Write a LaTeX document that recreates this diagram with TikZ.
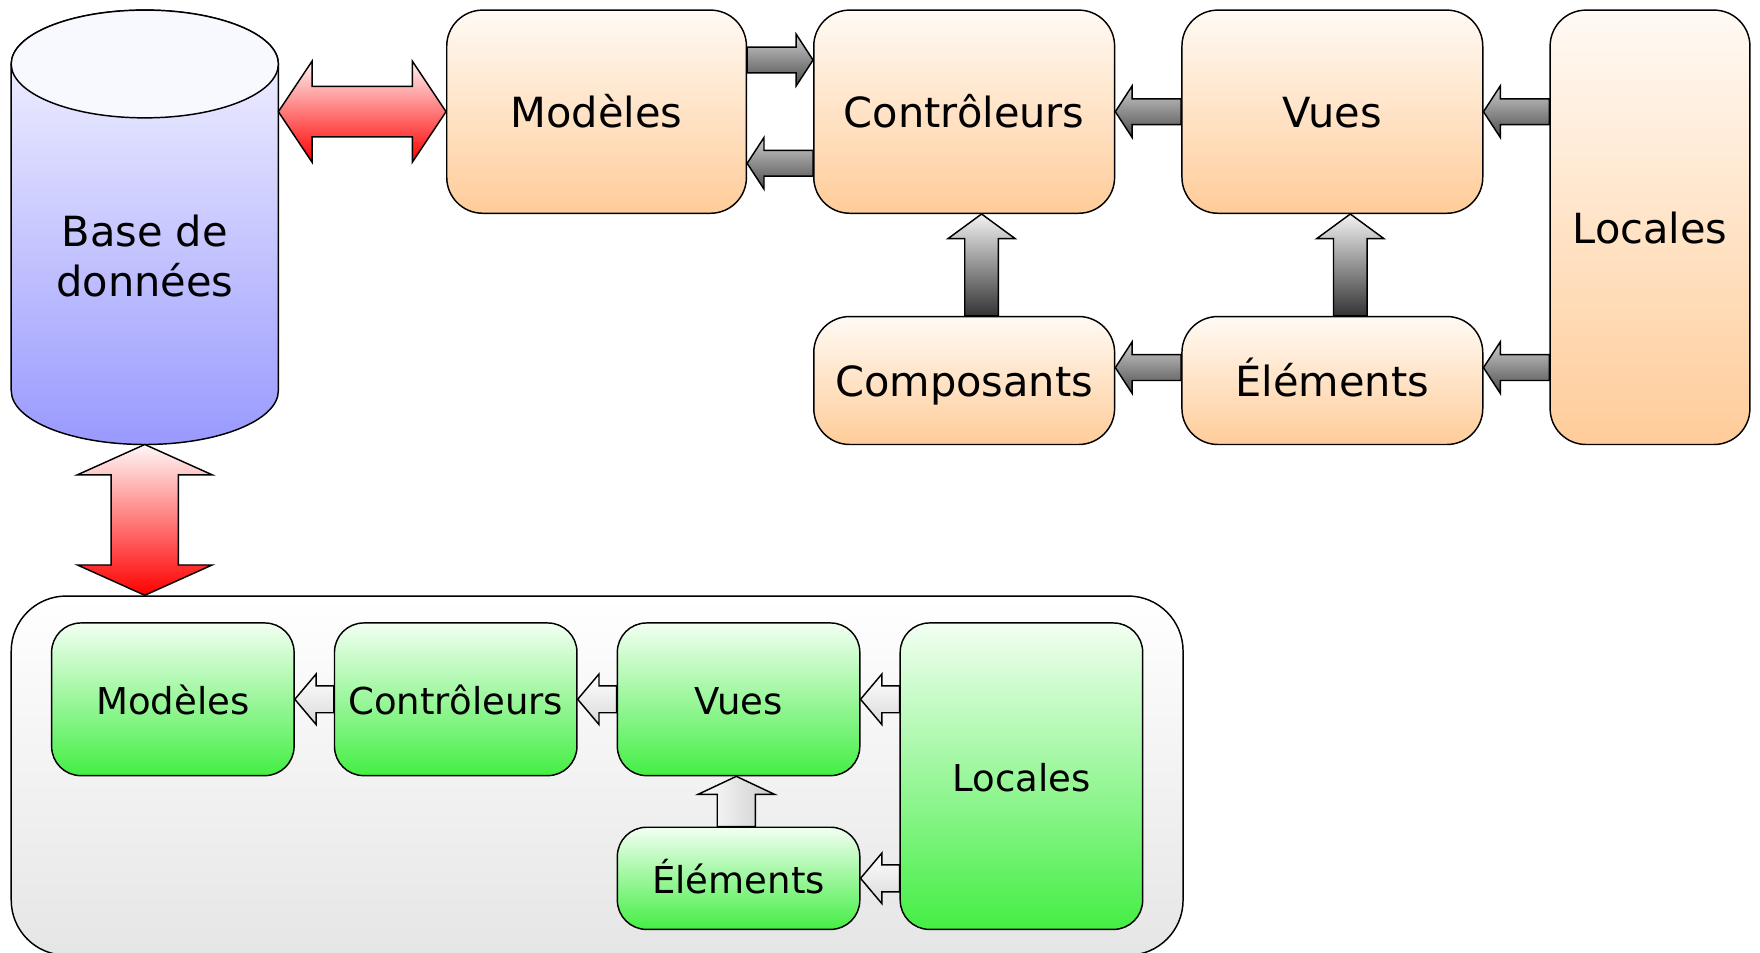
\documentclass[tikz,border=0pt]{standalone}
\usepackage{fontspec}
\setmainfont{DejaVu Sans}
\usetikzlibrary{calc}

\definecolor{peachtop}{HTML}{FFFAF4}
\definecolor{peachbot}{HTML}{FFCC99}
\definecolor{greentop}{HTML}{F2FFF2}
\definecolor{greenbot}{HTML}{44EE44}
\definecolor{dbtop}{HTML}{F8F8FF}
\definecolor{dbbot}{HTML}{9999FF}

\tikzset{
    shaftw/.store in=\ashaft, headw/.store in=\ahead, headl/.store in=\alen,
    shaftw=12pt, headw=22pt, headl=17pt,
    blockarrow/.style={to path={let \p1=(\tikztostart), \p2=(\tikztotarget),
        \n1={veclen(\x2-\x1,\y2-\y1)}, \n2={(\x2-\x1)/\n1}, \n3={(\y2-\y1)/\n1} in
        ({\x1-(\n3)*\ashaft},{\y1+(\n2)*\ashaft})
        -- ({\x2-(\n2)*\alen-(\n3)*\ashaft},{\y2-(\n3)*\alen+(\n2)*\ashaft})
        -- ({\x2-(\n2)*\alen-(\n3)*\ahead},{\y2-(\n3)*\alen+(\n2)*\ahead})
        -- (\x2,\y2)
        -- ({\x2-(\n2)*\alen+(\n3)*\ahead},{\y2-(\n3)*\alen-(\n2)*\ahead})
        -- ({\x2-(\n2)*\alen+(\n3)*\ashaft},{\y2-(\n3)*\alen-(\n2)*\ashaft})
        -- ({\x1+(\n3)*\ashaft},{\y1-(\n2)*\ashaft}) -- cycle}},
    blockboth/.style={to path={let \p1=(\tikztostart), \p2=(\tikztotarget),
        \n1={veclen(\x2-\x1,\y2-\y1)}, \n2={(\x2-\x1)/\n1}, \n3={(\y2-\y1)/\n1} in
        (\x1,\y1)
        -- ({\x1+(\n2)*\alen-(\n3)*\ahead},{\y1+(\n3)*\alen+(\n2)*\ahead})
        -- ({\x1+(\n2)*\alen-(\n3)*\ashaft},{\y1+(\n3)*\alen+(\n2)*\ashaft})
        -- ({\x2-(\n2)*\alen-(\n3)*\ashaft},{\y2-(\n3)*\alen+(\n2)*\ashaft})
        -- ({\x2-(\n2)*\alen-(\n3)*\ahead},{\y2-(\n3)*\alen+(\n2)*\ahead})
        -- (\x2,\y2)
        -- ({\x2-(\n2)*\alen+(\n3)*\ahead},{\y2-(\n3)*\alen-(\n2)*\ahead})
        -- ({\x2-(\n2)*\alen+(\n3)*\ashaft},{\y2-(\n3)*\alen-(\n2)*\ashaft})
        -- ({\x1+(\n2)*\alen+(\n3)*\ashaft},{\y1+(\n3)*\alen-(\n2)*\ashaft})
        -- ({\x1+(\n2)*\alen+(\n3)*\ahead},{\y1+(\n3)*\alen-(\n2)*\ahead}) -- cycle}},
}

\begin{document}
\begin{tikzpicture}[x=1pt, y=-1pt, line width=1.3pt,
    box/.style={draw, rounded corners=32pt, inner sep=0pt, align=center,
        text height=32pt, text depth=3pt,
        font=\fontsize{37}{44}\selectfont, top color=peachtop, bottom color=peachbot},
    gbox/.style={box, rounded corners=26pt, font=\fontsize{33}{40}\selectfont,
        text height=29pt, text depth=2pt, top color=greentop, bottom color=greenbot},
    grayh/.style={blockarrow, draw, shaftw=11.5pt, headw=23pt, headl=15pt,
        top color=black!20, bottom color=black!70},
    grayv/.style={blockarrow, draw, shaftw=15pt, headw=30pt, headl=22pt,
        top color=black!5, bottom color=black!80},
    whiteh/.style={blockarrow, draw, shaftw=12pt, headw=22.5pt, headl=19pt,
        top color=white, bottom color=black!15},
    whitev/.style={blockarrow, draw, shaftw=17pt, headw=34pt, headl=16pt,
        left color=white, right color=black!20},
    redh/.style={blockboth, draw, shaftw=22.5pt, headw=45pt, headl=30pt,
        top color=red!5, bottom color=red},
    redv/.style={blockboth, draw, shaftw=30pt, headw=60pt, headl=27pt,
        top color=red!3, bottom color=red}]
    \useasboundingbox (0,0) rectangle (1568,849);

    % base de donnees
    \path[draw, top color=dbtop, bottom color=dbbot]
        (10,57) -- (10,348) arc[start angle=180, end angle=360, x radius=119pt, y radius=48pt]
        -- (248,57) arc[start angle=0, end angle=180, x radius=119pt, y radius=48pt] -- cycle;
    \path[draw, fill=dbtop] (129,57) ellipse[x radius=119pt, y radius=48pt];
    \node[align=center, font=\fontsize{37}{44}\selectfont] (db) at (129,228) {Base de\\données};
    \coordinate (dbright) at (248,99.5);
    \coordinate (dbbot) at (129,396);

    % serveur
    \node[box, minimum width=267pt, minimum height=181pt] (mod) at (531.5,99.5) {Modèles};
    \node[box, minimum width=268pt, minimum height=181pt] (ctrl) at (859,99.5) {Contrôleurs};
    \node[box, minimum width=268pt, minimum height=181pt] (vues) at (1187,99.5) {Vues};
    \node[box, minimum width=178pt, minimum height=387pt] (loc) at (1470,202.5) {Locales};
    \node[box, minimum width=268pt, minimum height=114pt] (comp) at (859,339) {Composants};
    \node[box, minimum width=268pt, minimum height=114pt] (elem) at (1187,339) {Éléments};

    \path[grayh] ($(mod.east)+(0,-46)$) to ($(ctrl.west)+(0,-46)$);
    \path[grayh] ($(ctrl.west)+(0,46)$) to ($(mod.east)+(0,46)$);
    \path[grayh] (vues.west) to (ctrl.east);
    \path[grayh] (loc.west |- vues.east) to (vues.east);
    \path[grayh] ($(elem.west)+(0,-11.5)$) to ($(comp.east)+(0,-11.5)$);
    \path[grayh] ($(loc.west |- elem.east)+(0,-11.5)$) to ($(elem.east)+(0,-11.5)$);
    \path[grayv] ($(comp.north)+(15.5,0)$) to ($(ctrl.south)+(15.5,0)$);
    \path[grayv] ($(elem.north)+(16,0)$) to ($(vues.south)+(16,0)$);

    % client
    \node[draw, rounded corners=49pt, top color=white, bottom color=black!10,
        minimum width=1044pt, minimum height=320pt] (frame) at (532,691) {};
    \node[gbox, minimum width=216pt, minimum height=136pt] (gmod) at (154,623) {Modèles};
    \node[gbox, minimum width=216pt, minimum height=136pt] (gctrl) at (406,623) {Contrôleurs};
    \node[gbox, minimum width=216pt, minimum height=136pt] (gvues) at (658,623) {Vues};
    \node[gbox, minimum width=216pt, minimum height=273pt] (gloc) at (910,691.5) {Locales};
    \node[gbox, minimum width=216pt, minimum height=91pt] (gelem) at (658,782.5) {Éléments};

    \path[whiteh] (gctrl.west) to (gmod.east);
    \path[whiteh] (gvues.west) to (gctrl.east);
    \path[whiteh] (gloc.west |- gvues.east) to (gvues.east);
    \path[whiteh] (gloc.west |- gelem.east) to (gelem.east);
    \path[whitev] ($(gelem.north)+(-2,0)$) to ($(gvues.south)+(-2,0)$);

    \path[redh] (dbright) to (mod.west);
    \path[redv] (dbbot) to (dbbot |- frame.north);
\end{tikzpicture}
\end{document}
